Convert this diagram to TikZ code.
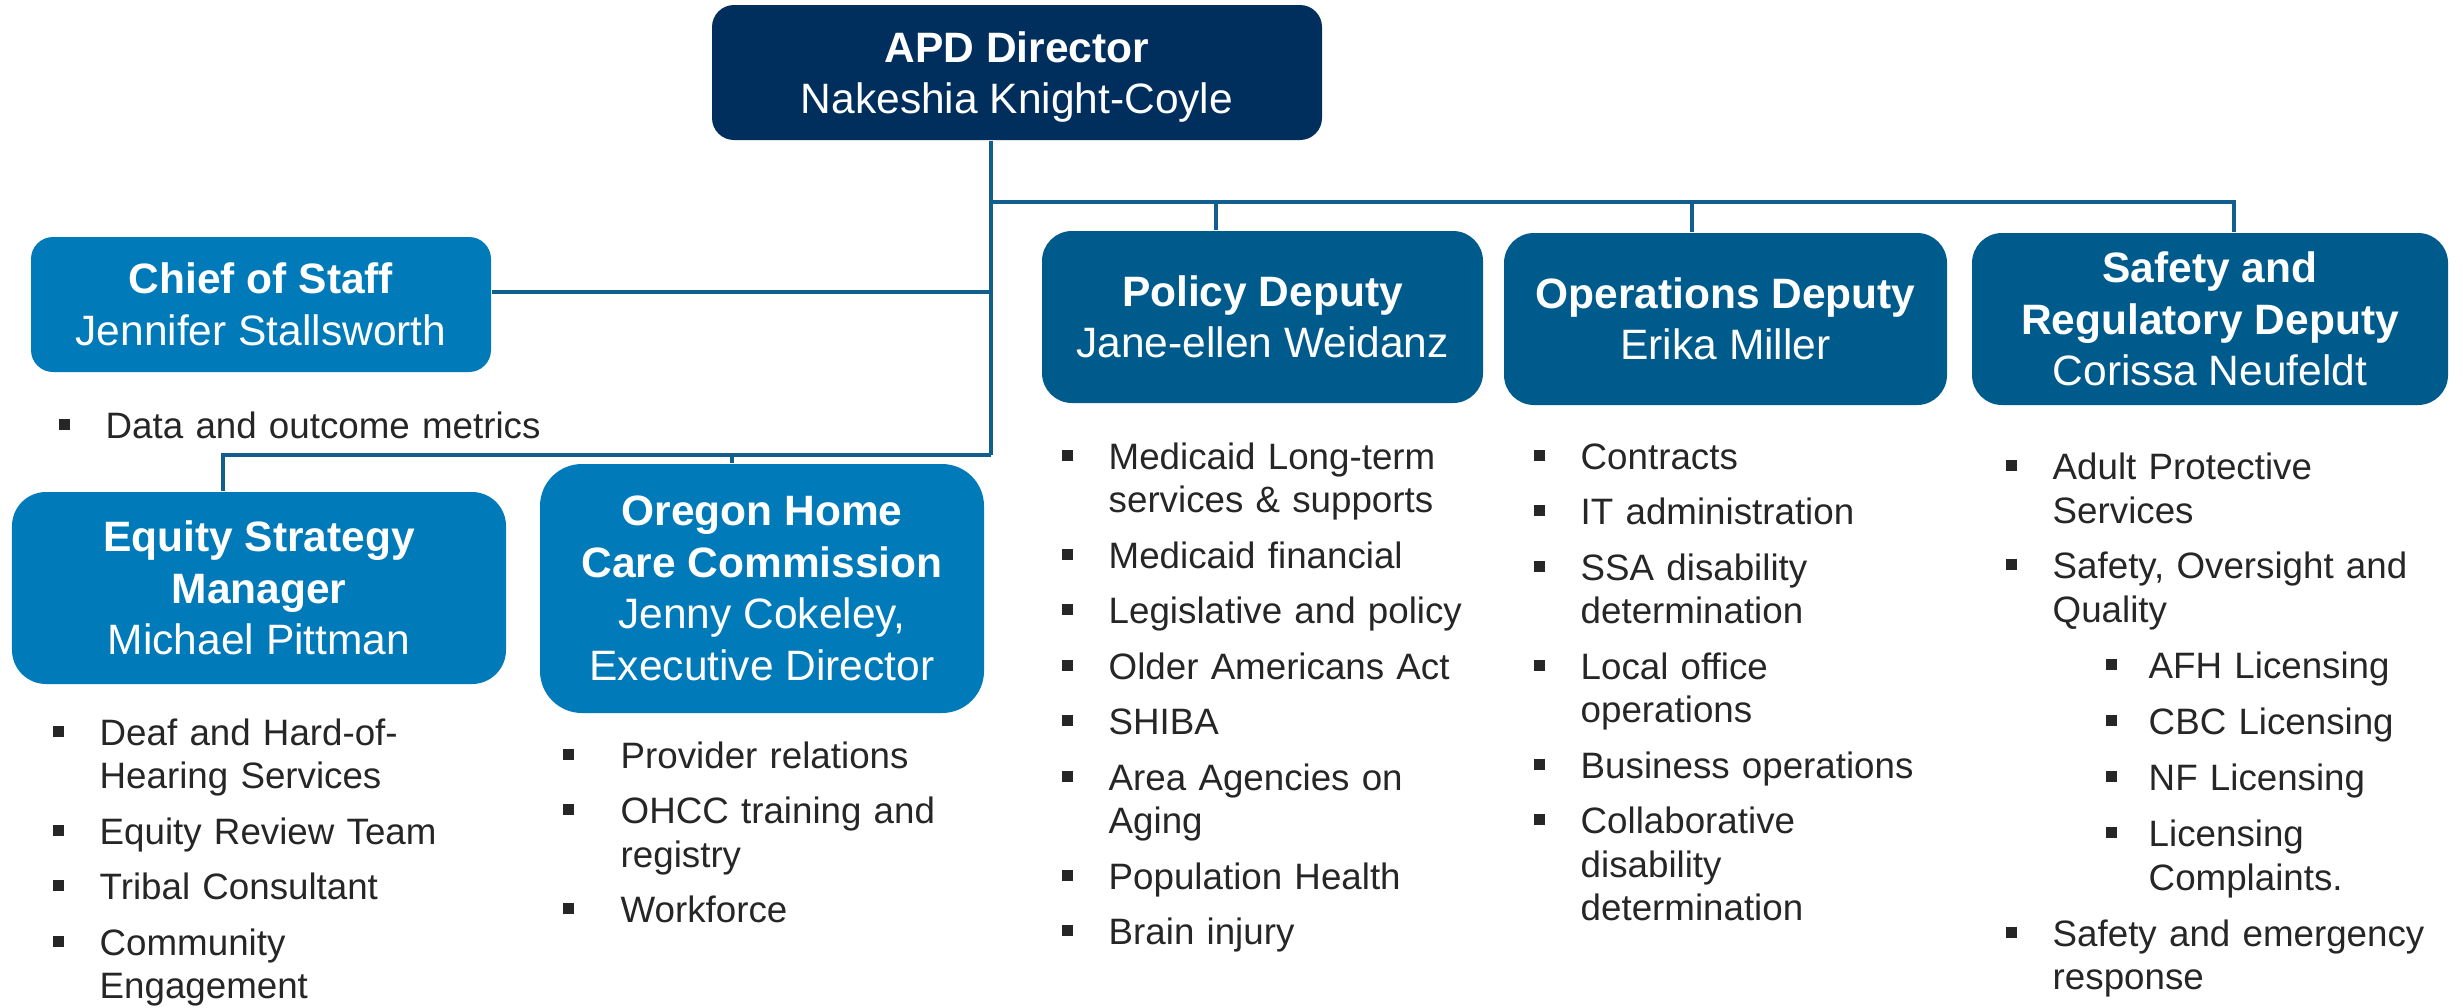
\documentclass[tikz,border=0pt]{standalone}
\usepackage{fontspec}
\setmainfont{Liberation Sans}
\usepackage{enumitem}
\usetikzlibrary{positioning,calc}

\definecolor{dirblue}{HTML}{002F5D}
\definecolor{staffblue}{HTML}{007AB9}
\definecolor{deputyblue}{HTML}{005B8D}
\definecolor{linkblue}{HTML}{125E8E}
\definecolor{listgray}{HTML}{262626}

% small square bullet for the duty lists
\newcommand{\sqbul}{\textcolor{listgray}{\raisebox{0.085cm}{\rule{0.11cm}{0.11cm}}}}
\newenvironment{duties}[1][0.355cm]{%
  \begin{itemize}[label=\sqbul, leftmargin=0.6cm, labelwidth=0.11cm, labelsep=#1,
    topsep=0pt, partopsep=0pt, parsep=0pt, itemsep=3.41pt]}{\end{itemize}}
% drop the descender so the box text sits centred
\newcommand{\nodesc}[1]{\raisebox{0pt}[\height][0pt]{#1}}

\begin{document}
\begin{tikzpicture}[
    box/.style={rounded corners=#1, align=center, text=white, inner sep=0pt,
        font=\fontsize{12.09}{14.65}\selectfont},
    link/.style={draw=linkblue, line width=0.04cm},
    tasks/.style={anchor=base west, text width=6cm, align=left, inner sep=0pt,
        text=listgray, font=\fontsize{10.45}{12.38}\selectfont}
]
    \useasboundingbox (0,0) rectangle (24.63,-10.07);

    % Director
    \node[box=0.22cm, fill=dirblue, minimum width=6.1cm, minimum height=1.35cm]
        (dir) at (10.17,-0.725) {\textbf{APD Director}\\\nodesc{Nakeshia Knight-Coyle}};

    % Staff reporting straight to the director
    \node[box=0.22cm, fill=staffblue, minimum width=4.6cm, minimum height=1.35cm]
        (cos) at (2.61,-3.045) {\textbf{Chief of Staff}\\Jennifer Stallsworth};
    \node[box=0.34cm, fill=staffblue, minimum width=4.94cm, minimum height=1.92cm]
        (eq) at (2.59,-5.88) {\textbf{Equity Strategy}\\\textbf{Manager}\\Michael Pittman};
    \node[box=0.42cm, fill=staffblue, minimum width=4.44cm, minimum height=2.49cm]
        (ohcc) at (7.62,-5.885) {\textbf{Oregon Home}\\\textbf{Care Commission}\\Jenny Cokeley,\\Executive Director};

    % Deputies
    \node[box=0.3cm, fill=deputyblue, minimum width=4.41cm, minimum height=1.72cm]
        (pol) at (12.625,-3.17) {\textbf{Policy Deputy}\\Jane-ellen Weidanz};
    \node[box=0.3cm, fill=deputyblue, minimum width=4.43cm, minimum height=1.72cm]
        (ops) at (17.255,-3.19) {\textbf{Operations Deputy}\\Erika Miller};
    \node[box=0.3cm, fill=deputyblue, minimum width=4.76cm, minimum height=1.72cm]
        (saf) at (22.1,-3.19) {\textbf{Safety and}\\\textbf{Regulatory Deputy}\\Corissa Neufeldt};

    % Reporting lines
    \coordinate (spine) at (9.91,-4.55);
    \coordinate (upbus) at (9.91,-2.02);
    \coordinate (cosjoin) at (9.91,-2.92);
    \coordinate (dropP) at (12.16,-2.02);
    \coordinate (dropO) at (16.92,-2.02);
    \coordinate (dropS) at (22.34,-2.02);
    \coordinate (dropE) at (2.23,-4.55);
    \coordinate (dropH) at (7.32,-4.55);

    \draw[link] (dir.south -| spine) -- (spine);
    \draw[link] (upbus) -- (dropS) -- (dropS |- saf.north);
    \draw[link] (dropP) -- (dropP |- pol.north);
    \draw[link] (dropO) -- (dropO |- ops.north);
    \draw[link] (cosjoin) -- (cosjoin -| cos.east);
    \draw[link] (spine) -- (dropE) -- (dropE |- eq.north);
    \draw[link] (dropH) -- (dropH |- ohcc.north);

    % Duty lists
    \node[tasks] (cos-list) at (0.45,-3.945) {\begin{duties}
        \item Data and outcome metrics
    \end{duties}};

    \node[tasks] (eq-list) at (0.39,-7.015) {\begin{duties}
        \item Deaf and Hard-of-\\Hearing Services
        \item Equity Review Team
        \item Tribal Consultant
        \item Community\\Engagement
    \end{duties}};

    \node[tasks] (ohcc-list) at (5.6,-7.245) {\begin{duties}[0.465cm]
        \item Provider relations
        \item OHCC training and\\registry
        \item Workforce
    \end{duties}};

    \node[tasks] (pol-list) at (10.48,-4.255) {\begin{duties}
        \item Medicaid Long-term\\services \& supports
        \item Medicaid financial
        \item Legislative and policy
        \item Older Americans Act
        \item SHIBA
        \item Area Agencies on\\Aging
        \item Population Health
        \item Brain injury
    \end{duties}};

    \node[tasks] (ops-list) at (15.2,-4.255) {\begin{duties}
        \item Contracts
        \item IT administration
        \item SSA disability\\determination
        \item Local office\\operations
        \item Business operations
        \item Collaborative\\disability\\determination
    \end{duties}};

    \node[tasks] (saf-list) at (19.92,-4.36) {\begin{duties}
        \item Adult Protective\\Services
        \item Safety, Oversight and\\Quality
        \begin{itemize}[label=\sqbul, leftmargin=0.96cm, labelwidth=0.11cm, labelsep=0.32cm,
            topsep=3.6pt, partopsep=0pt, parsep=0pt, itemsep=3.6pt]
            \item AFH Licensing
            \item CBC Licensing
            \item NF Licensing
            \item Licensing\\Complaints.
        \end{itemize}
        \item Safety and emergency\\response
    \end{duties}};
\end{tikzpicture}
\end{document}
